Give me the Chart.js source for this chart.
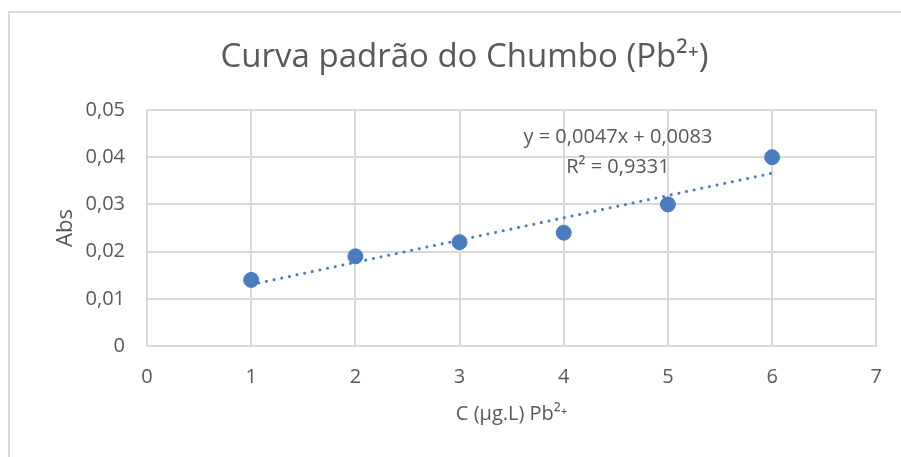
<!DOCTYPE html>
<html>
<head>
<meta charset="utf-8">
<script src="https://cdn.jsdelivr.net/npm/chart.js@4/dist/chart.umd.min.js"></script>
<style>
  html, body { margin: 0; padding: 0; background: #fff; }
  #wrap { position: relative; width: 901px; height: 457px; }
  #frame { position: absolute; left: 8px; top: 11px; right: -4px; bottom: -4px; border-left: 2px solid #d9d9d9; border-top: 2px solid #d9d9d9; }
  canvas { position: absolute; left: 0; top: 0; }
</style>
</head>
<body>
<div id="wrap">
  <div id="frame"></div>
  <canvas id="chart" width="901" height="457"></canvas>
</div>
<script>
    const concentrations = [1, 2, 3, 4, 5, 6];
    const absorbances = [0.014, 0.019, 0.022, 0.024, 0.030, 0.040];
    const trendX = [1, 6];
    const trendY = [0.0130, 0.0366];
    const equationText = 'y = 0,0047x + 0,0083';
    const r2Text = 'R² = 0,9331';

    const blue = '#4a7cc0';
    const textColor = '#595959';
    const gridColor = '#d9d9d9';
    const fontFamily = '"Open Sans", "DejaVu Sans", sans-serif';

    function fmtComma(v) {
        if (Math.abs(v) < 1e-9) return '0';
        return (Math.round(v * 100) / 100).toFixed(2).replace('.', ',');
    }

    const trendLabel = {
        id: 'trendLabel',
        afterDatasetsDraw(chart) {
            const ctx = chart.ctx;
            const x = chart.scales.x.getPixelForValue(4.52);
            const y1 = chart.scales.y.getPixelForValue(0.0443);
            const y2 = chart.scales.y.getPixelForValue(0.0379);
            ctx.save();
            ctx.fillStyle = textColor;
            ctx.font = `20px ${fontFamily}`;
            ctx.textAlign = 'center';
            ctx.textBaseline = 'middle';
            ctx.fillText(equationText, x, y1);
            ctx.fillText(r2Text, x, y2);
            ctx.restore();
        }
    };

    new Chart(document.getElementById('chart'), {
        type: 'scatter',
        data: {
            datasets: [
                {
                    label: 'Abs',
                    data: concentrations.map((c, i) => ({ x: c, y: absorbances[i] })),
                    backgroundColor: blue,
                    borderColor: blue,
                    pointRadius: 7.5,
                    pointHoverRadius: 7.5,
                    order: 2
                },
                {
                    label: 'Linear',
                    type: 'line',
                    data: trendX.map((c, i) => ({ x: c, y: trendY[i] })),
                    borderColor: blue,
                    borderWidth: 3,
                    borderDash: [0.01, 7.8],
                    borderCapStyle: 'round',
                    pointRadius: 0,
                    fill: false,
                    order: 1
                }
            ]
        },
        options: {
            responsive: false,
            animation: false,
            events: [],
            layout: { padding: { left: 49, right: 21, top: 0, bottom: 27 } },
            plugins: {
                legend: { display: false },
                tooltip: { enabled: false },
                title: {
                    display: true,
                    text: 'Curva padrão do Chumbo (Pb²⁺)',
                    color: textColor,
                    font: { family: fontFamily, size: 33, weight: 'normal', lineHeight: 1.2 },
                    padding: { top: 38, bottom: 32.4 }
                }
            },
            scales: {
                x: {
                    type: 'linear',
                    min: 0, max: 7,
                    ticks: { stepSize: 1, color: textColor, padding: 19, font: { family: fontFamily, size: 20 } },
                    grid: { color: gridColor, lineWidth: 2, drawTicks: false },
                    border: { color: gridColor, width: 2 },
                    title: { display: true, text: 'C (µg.L) Pb²⁺', color: textColor, font: { family: fontFamily, size: 20 } },
                    afterFit: s => { s.height = 84; }
                },
                y: {
                    min: 0, max: 0.05,
                    ticks: { stepSize: 0.01, color: textColor, padding: 22, font: { family: fontFamily, size: 20 }, callback: v => fmtComma(v) },
                    grid: { color: gridColor, lineWidth: 2, drawTicks: false },
                    border: { color: gridColor, width: 2 },
                    title: { display: true, text: 'Abs', color: textColor, font: { family: fontFamily, size: 22 } },
                    afterFit: s => { s.width = 98; }
                }
            }
        },
        plugins: [trendLabel]
    });
</script>
</body>
</html>
